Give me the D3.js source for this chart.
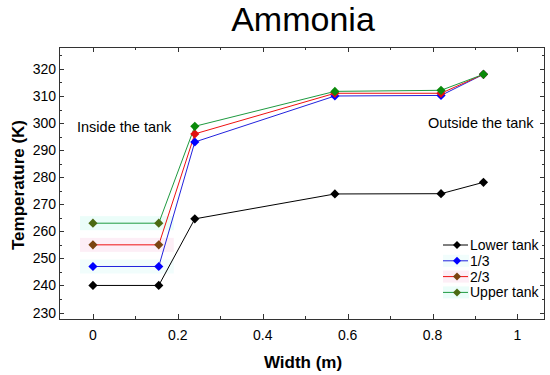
<!DOCTYPE html>
<html>
<head>
<meta charset="utf-8">
<script src="https://cdn.jsdelivr.net/npm/d3@7"></script>
<style>
	body { margin: 0; background: #fff; }
	svg { font-family: Arial, 'Liberation Sans', sans-serif; }
</style>
</head>
<body>
<div id="chart"></div>
<script>
// Chart data
const widths = [0, 0.155, 0.24, 0.57, 0.82, 0.92];
const lowerTank = [240, 240, 264.6, 273.8, 273.9, 278.1];
const oneThird = [247, 247, 293, 310, 310.2, 318];
const twoThirds = [255, 255, 296, 311, 311, 318];
const upperTank = [263, 263, 298.8, 311.7, 312.1, 318];
const seriesNames = ['Lower tank', '1/3', '2/3', 'Upper tank'];
const xTickLabels = [0, 0.2, 0.4, 0.6, 0.8, 1];
const yTickLabels = [230, 240, 250, 260, 270, 280, 290, 300, 310, 320];

// Styles per series
const lineColors = ['#000000', '#2222dd', '#ee1111', '#1e9a40'];
const markerColors = ['#000000', '#0000ff', '#e01010', '#0a8a0a'];
const insideMarkerColors = ['#000000', '#0000ff', '#7a4410', '#4b6a12'];
const bandColors = [null, '#f1fdfc', '#fdeef6', '#ebfdf9'];

const width = 550, height = 375;
const margin = { top: 47, right: 5, bottom: 56, left: 59 };

const svg = d3.select('#chart').append('svg')
	.attr('width', width)
	.attr('height', height);

const x = d3.scaleLinear()
	.domain([-0.08, 1.065])
	.range([margin.left, width - margin.right]);

const y = d3.scaleLinear()
	.domain([227.6, 328.1])
	.range([height - margin.bottom, margin.top]);

const series = [lowerTank, oneThird, twoThirds, upperTank].map((values, i) => ({
	name: seriesNames[i],
	index: i,
	points: values.map((v, j) => ({ x: widths[j], y: v, j: j }))
}));

// Highlight bands behind the inside-tank points
series.filter(s => bandColors[s.index]).forEach(s => {
	svg.append('rect')
		.attr('x', x(widths[0]) - 13)
		.attr('y', y(s.points[0].y) - 7)
		.attr('width', x(widths[1]) - x(widths[0]) + 28)
		.attr('height', 14)
		.attr('fill', bandColors[s.index]);
});

// Frame and ticks
const plotB = height - margin.bottom, plotT = margin.top;
const plotL = margin.left, plotR = width - margin.right;

const xMinor = d3.range(0, 1.01, 0.1);
const yMinor = d3.range(230, 326, 5);

const g = svg.append('g').attr('stroke', '#333').attr('stroke-width', 1);

xMinor.forEach(v => {
	const isMajor = Math.abs(Math.round(v * 10) % 2) === 0;
	const len = isMajor ? 5 : 3;
	const px = Math.round(x(v)) + 0.5;
	g.append('line').attr('x1', px).attr('x2', px).attr('y1', plotB).attr('y2', plotB - len);
	g.append('line').attr('x1', px).attr('x2', px).attr('y1', plotT).attr('y2', plotT + len);
});
yMinor.forEach(v => {
	const isMajor = v % 10 === 0;
	const len = isMajor ? 5 : 3;
	const py = Math.round(y(v)) + 0.5;
	g.append('line').attr('y1', py).attr('y2', py).attr('x1', plotL).attr('x2', plotL + len);
	g.append('line').attr('y1', py).attr('y2', py).attr('x1', plotR).attr('x2', plotR - len);
});

svg.append('rect')
	.attr('x', plotL + 0.5).attr('y', plotT + 0.5)
	.attr('width', plotR - plotL - 1).attr('height', plotB - plotT)
	.attr('fill', 'none').attr('stroke', '#333');

// Tick labels
svg.append('g').selectAll('text')
	.data(xTickLabels)
	.join('text')
	.attr('x', d => x(d))
	.attr('y', 340)
	.attr('text-anchor', 'middle')
	.attr('font-size', 14)
	.text(d => d3.format('~g')(d));

svg.append('g').selectAll('text')
	.data(yTickLabels)
	.join('text')
	.attr('x', plotL - 3)
	.attr('y', d => y(d) + 5)
	.attr('text-anchor', 'end')
	.attr('font-size', 14)
	.text(d => d);

// Lines and markers
const line = d3.line().x(d => x(d.x)).y(d => y(d.y));
const diamond = 'M0,-4.6L4.6,0L0,4.6L-4.6,0Z';

series.forEach(s => {
	svg.append('path')
		.datum(s.points)
		.attr('d', line)
		.attr('fill', 'none')
		.attr('stroke', lineColors[s.index])
		.attr('stroke-width', 1);
});
series.forEach(s => {
	svg.append('g').selectAll('path')
		.data(s.points)
		.join('path')
		.attr('transform', d => `translate(${x(d.x)},${y(d.y)})`)
		.attr('d', diamond)
		.attr('fill', d => d.j < 2 ? insideMarkerColors[s.index] : markerColors[s.index]);
});

// Annotations
svg.append('text').attr('x', 77).attr('y', 132).attr('font-size', 14.5).text('Inside the tank');
svg.append('text').attr('x', 428).attr('y', 128).attr('font-size', 14.5).text('Outside the tank');

// Title and axis titles
svg.append('text')
	.attr('x', 303).attr('y', 31)
	.attr('text-anchor', 'middle')
	.attr('font-size', 34)
	.text('Ammonia');

svg.append('text')
	.attr('x', 303).attr('y', 368)
	.attr('text-anchor', 'middle')
	.attr('font-size', 17)
	.attr('font-weight', 'bold')
	.text('Width (m)');

svg.append('text')
	.attr('transform', 'translate(24,185) rotate(-90)')
	.attr('text-anchor', 'middle')
	.attr('font-size', 17)
	.attr('font-weight', 'bold')
	.text('Temperature (K)');

// Legend
const legend = svg.append('g').attr('transform', 'translate(443,245)');
series.forEach((s, i) => {
	const row = legend.append('g').attr('transform', `translate(0,${i * 15.8})`);
	if (bandColors[i]) {
		row.append('rect').attr('x', 0).attr('y', -6).attr('width', 26).attr('height', 12)
			.attr('fill', bandColors[i]);
	}
	row.append('line').attr('x1', 0).attr('x2', 25).attr('y1', 0).attr('y2', 0)
		.attr('stroke', lineColors[i]).attr('stroke-width', 1);
	row.append('path')
		.attr('transform', 'translate(14,0)')
		.attr('d', 'M0,-4L4,0L0,4L-4,0Z')
		.attr('fill', i >= 2 ? insideMarkerColors[i] : markerColors[i]);
	row.append('text').attr('x', 27).attr('y', 5).attr('font-size', 14).text(s.name);
});
</script>
</body>
</html>
